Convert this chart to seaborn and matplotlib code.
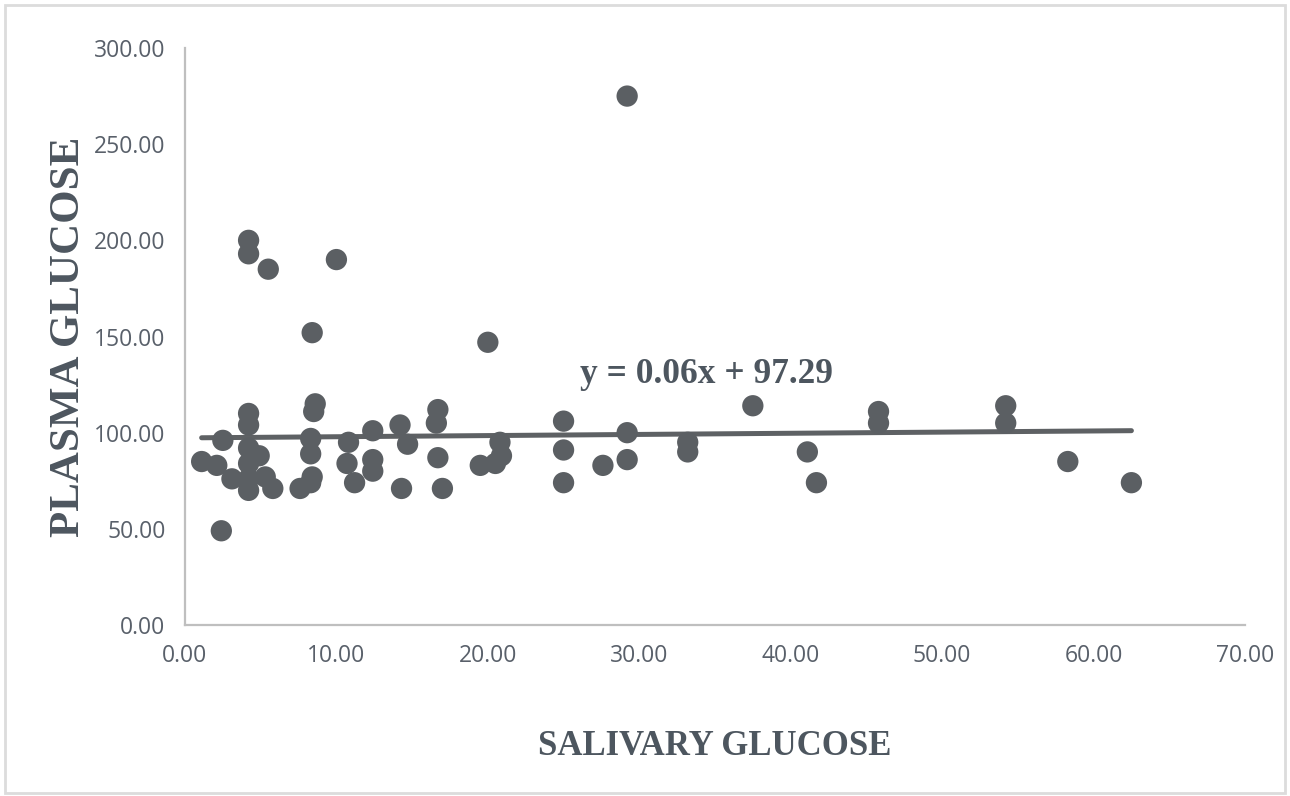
import matplotlib
matplotlib.use('Agg')
import matplotlib.pyplot as plt
import seaborn as sns
import pandas as pd
import numpy as np
from matplotlib.patches import Rectangle

# 讀取數據
salivary = [1.1, 2.1, 2.5, 2.4, 3.1,
            4.2, 4.2, 4.2, 4.2, 4.2, 4.2, 4.2, 4.2,
            4.9, 5.3, 5.8, 5.5,
            7.6, 8.3, 8.4, 8.4, 8.5, 8.6, 8.3, 8.3,
            10.0, 10.8, 10.7, 11.2,
            12.4, 12.4, 12.4,
            14.2, 14.3, 14.7,
            16.7, 16.6, 16.7, 17.0,
            20.0, 19.5, 20.5, 20.8, 20.9,
            25.0, 25.0, 25.0, 27.6,
            29.2, 29.2, 29.2,
            33.2, 33.2,
            37.5, 41.1, 41.7,
            45.8, 45.8, 54.2, 54.2, 58.3, 62.5]
plasma = [85, 83, 96, 49, 76,
          200, 193, 110, 104, 92, 84, 76, 70,
          88, 77, 71, 185,
          71, 74, 77, 152, 111, 115, 97, 89,
          190, 95, 84, 74,
          101, 86, 80,
          104, 71, 94,
          112, 105, 87, 71,
          147, 83, 84, 95, 88,
          106, 91, 74, 83,
          275, 100, 86,
          95, 90,
          114, 90, 74,
          111, 105, 114, 105, 85, 74]

slope = 0.06
intercept = 97.29
x_ticks = [0, 10, 20, 30, 40, 50, 60, 70]
y_ticks = [0, 50, 100, 150, 200, 250, 300]

df = pd.DataFrame({'salivary': salivary, 'plasma': plasma})
x_ends = np.array([min(salivary), max(salivary)])
trend = pd.DataFrame({'x': x_ends, 'y': slope * x_ends + intercept})

sns.set_style('white')
plt.rcParams['font.family'] = ['Open Sans', 'DejaVu Sans']

fig = plt.figure(figsize=(12.9, 7.96), dpi=100)
ax = fig.add_axes([0.1434, 0.2148, 0.8217, 0.7249])

dot_color = '#5b5f63'
sns.lineplot(data=trend, x='x', y='y', ax=ax, color='#5e6164', linewidth=3.6, zorder=2)
sns.scatterplot(data=df, x='salivary', y='plasma', ax=ax, color=dot_color,
                s=235, edgecolor='none', zorder=3)

ax.set_xlim(0, 70)
ax.set_ylim(0, 300)
ax.set_xticks(x_ticks)
ax.set_yticks(y_ticks)
ax.set_xticklabels([f'{v:.2f}' for v in x_ticks])
ax.set_yticklabels([f'{v:.2f}' for v in y_ticks])

for side in ['top', 'right']:
    ax.spines[side].set_visible(False)
for side in ['left', 'bottom']:
    ax.spines[side].set_color('#bfbfbf')
    ax.spines[side].set_linewidth(1.6)
ax.tick_params(axis='both', direction='out', length=6, width=1.4, color='#bfbfbf',
               labelcolor='#59606a', labelsize=16.5, pad=8)
ax.grid(False)

label_font = dict(family='Liberation Serif', weight='bold', color='#4d565f')
ax.set_xlabel('SALIVARY GLUCOSE', fontsize=25, labelpad=44, **label_font)
ax.set_ylabel('PLASMA GLUCOSE', fontsize=31, labelpad=4, **label_font)

ax.text(26.1, 126, 'y = 0.06x + 97.29', fontsize=25.5, family='Liberation Serif',
        weight='bold', color='#4d565f', ha='left', va='baseline')

# 外框
fig.patches.append(Rectangle((0.004, 0.004), 0.992, 0.99, transform=fig.transFigure,
                             fill=False, edgecolor='#dcdcdc', linewidth=2))

fig.savefig('out.png', dpi=100)
